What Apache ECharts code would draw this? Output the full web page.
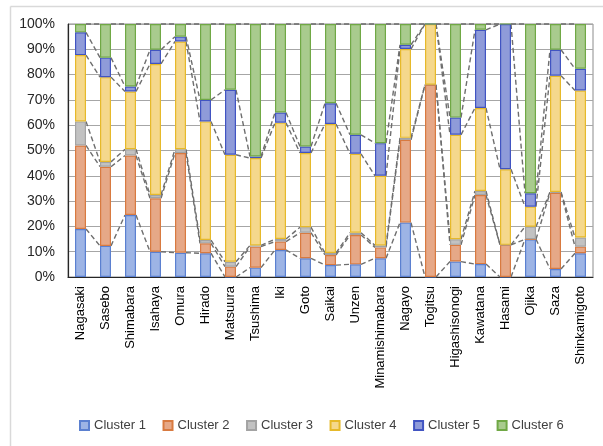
<!DOCTYPE html>
<html><head><meta charset="utf-8">
<script src="https://cdn.jsdelivr.net/npm/echarts@6/dist/echarts.min.js"></script>
<style>html,body{margin:0;padding:0;background:#fff}#c{width:603px;height:446px}</style>
</head><body><div id="c"></div>
<script>
const categories = ['Nagasaki','Sasebo','Shimabara','Isahaya','Omura','Hirado','Matsuura','Tsushima','Iki','Goto','Saikai','Unzen','Minamishimabara','Nagayo','Togitsu','Higashisonogi','Kawatana','Hasami','Ojika','Saza','Shinkamigoto'];
const cluster1 = [19, 12.3, 24.5, 10, 9.6, 9.4, 0, 3.7, 10.7, 7.4, 4.7, 5, 7.4, 21.5, 0, 6.1, 5.1, 0, 14.9, 3.2, 9.4];
const cluster2 = [33, 31.3, 23.5, 21.1, 39.4, 3.9, 4.1, 8.3, 3.3, 10.1, 4, 11.6, 4.3, 32.7, 76, 6.6, 27.3, 12.7, 0, 30.2, 2.6];
const cluster3 = [9.5, 1.9, 2.5, 1.3, 1.5, 1.3, 1.9, 0.5, 1, 2.2, 0.8, 0.9, 0.8, 0.8, 0, 2.2, 1.6, 0, 5, 0.3, 3.6];
const cluster4 = [26.2, 33.5, 22.8, 51.8, 42.6, 46.9, 42.3, 34.5, 46, 29.3, 51, 31.2, 27.5, 35.1, 24, 41.3, 32.8, 29.9, 7.9, 46.1, 58.1];
const cluster5 = [9, 7.7, 2, 5.6, 1.9, 8.5, 25.7, 0.6, 4, 2.6, 8.2, 7.5, 12.9, 1.7, 0, 6.8, 30.9, 57.4, 5.3, 10.3, 8.6];
const cluster6 = [3.3, 13.3, 24.7, 10.2, 5, 30, 26, 52.4, 35, 48.4, 31.3, 43.8, 47.1, 8.2, 0, 37, 2.3, 0, 66.9, 10.2, 17.7];
const yTicks = [0,10,20,30,40,50,60,70,80,90,100];
const names = ['Cluster 1','Cluster 2','Cluster 3','Cluster 4','Cluster 5','Cluster 6'];

const allSeries = [cluster1, cluster2, cluster3, cluster4, cluster5, cluster6];
const fills = ['#9db4e5','#e6a887','#c2c2c2','#f5d88c','#8f9bd9','#a9cb8e'];
const borders = ['#5b80d0','#d87a40','#a3a3a3','#e6b92a','#4154c2','#70a845'];
const BAR_W = 11;

// normalise to 100% and accumulate
const totals = categories.map((_, i) => allSeries.reduce((s, a) => s + a[i], 0));
const pct = allSeries.map(a => a.map((v, i) => v / totals[i] * 100));
const cum = [];
let run = categories.map(() => 0);
pct.forEach(a => { run = run.map((r, i) => r + a[i]); cum.push(run.slice()); });

const series = pct.map((a, k) => ({
  name: names[k], type: 'bar', stack: 'all', barWidth: BAR_W,
  data: a,
  itemStyle: { color: fills[k], borderColor: borders[k], borderWidth: 1.2 },
  z: 3
}));

// Series lines (dashed connectors between bar edges)
cum.forEach((c, k) => {
  const data = [];
  for (let i = 0; i < categories.length - 1; i++) data.push([i, c[i], c[i + 1]]);
  series.push({
    type: 'custom', silent: true, z: 2,
    renderItem: (params, api) => {
      const i = api.value(0);
      const p1 = api.coord([i, api.value(1)]);
      const p2 = api.coord([i + 1, api.value(2)]);
      return {
        type: 'line',
        shape: {x1: p1[0] + BAR_W / 2, y1: p1[1], x2: p2[0] - BAR_W / 2, y2: p2[1]},
        style: {stroke: '#6e6e6e', lineWidth: 1.4, lineDash: [5, 3]}
      };
    },
    data: data,
    encode: {x: 0, y: [1, 2]}
  });
});

const chart = echarts.init(document.getElementById('c'), null, {renderer: 'canvas'});
chart.setOption({
  animation: false,
  textStyle: {fontFamily: 'Liberation Sans, Arial, sans-serif'},
  graphic: [
    {type: 'line', shape: {x1: 10.5, y1: 6.5, x2: 603, y2: 6.5}, style: {stroke: '#d9d9d9', lineWidth: 1.5}},
    {type: 'line', shape: {x1: 10.5, y1: 6.5, x2: 10.5, y2: 446}, style: {stroke: '#d9d9d9', lineWidth: 1.5}}
  ],
  grid: {left: 68, right: 10, top: 24, bottom: 169, show: true, borderColor: '#8c8c8c', borderWidth: 1},
  legend: {
    data: names, bottom: 9, left: 74, icon: 'rect', itemWidth: 9, itemHeight: 9, itemGap: 16.5,
    textStyle: {fontSize: 13, color: '#404040'}
  },
  xAxis: {
    type: 'category', data: categories,
    axisLine: {lineStyle: {color: '#262626', width: 1.2}},
    axisTick: {show: false},
    axisLabel: {rotate: 90, interval: 0, fontSize: 13, color: '#000', margin: 9}
  },
  yAxis: {
    type: 'value', min: 0, max: 100, interval: 10,
    axisLine: {show: true, lineStyle: {color: '#262626', width: 1.2}},
    axisTick: {show: false},
    splitLine: {lineStyle: {color: '#a6a6a6', width: 1}},
    axisLabel: {fontSize: 14, color: '#262626', margin: 13,
      formatter: v => yTicks.indexOf(v) >= 0 ? v + '%' : ''}
  },
  series: series
});
</script></body></html>
